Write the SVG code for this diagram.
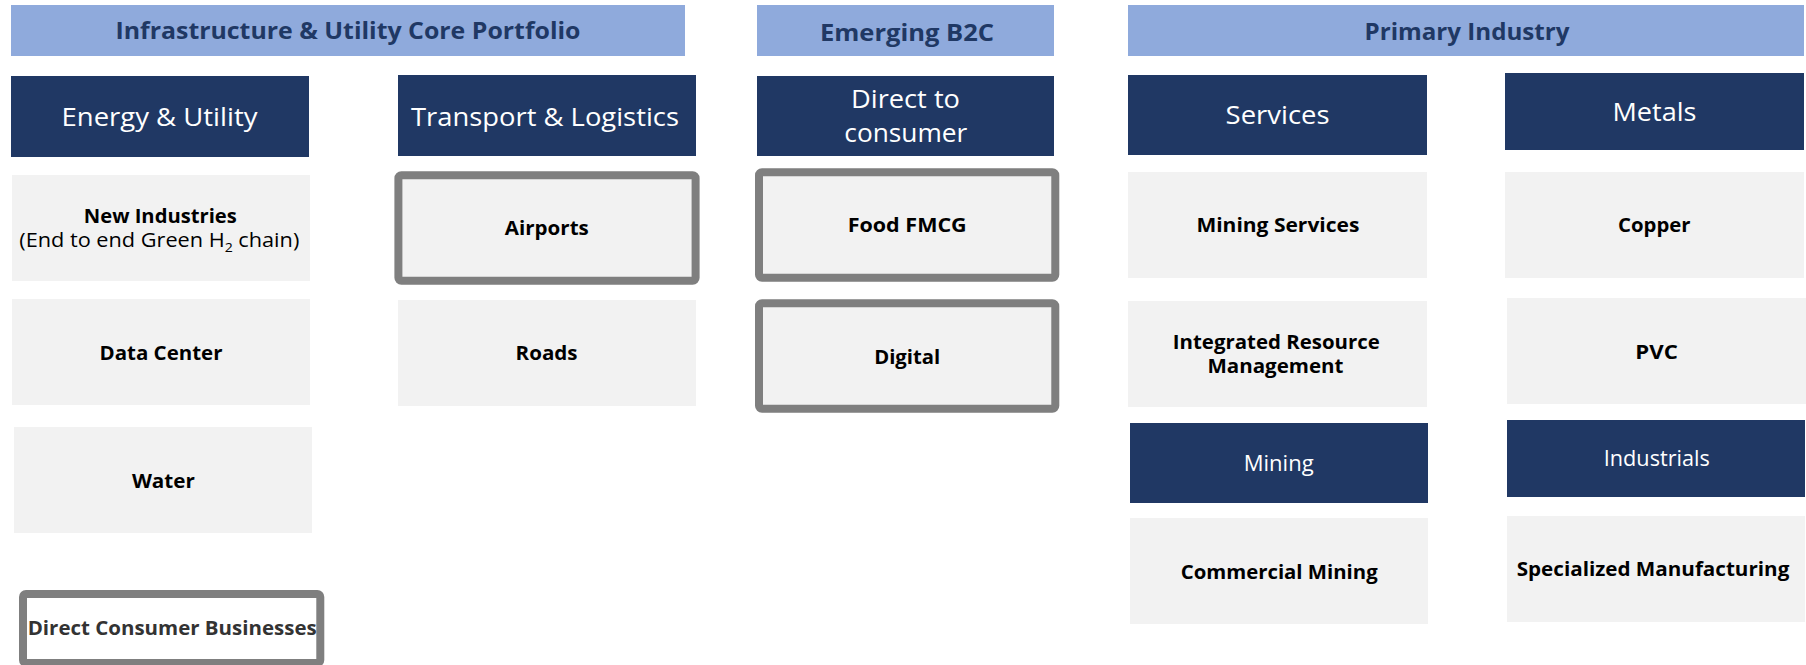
<svg xmlns="http://www.w3.org/2000/svg" width="1806" height="665" viewBox="0 0 1806 665">
<style>
text{font-family:"Open Sans","Liberation Sans",sans-serif;text-anchor:middle}
.hdr{fill:#8FAADC}
.hdrt{fill:#203864;font-size:24px;font-weight:700}
.dk{fill:#203864}
.dkt{fill:#FFFFFF;font-size:26px;font-weight:400}
.dks{fill:#FFFFFF;font-size:21px;font-weight:400}
.lt{fill:#F2F2F2}
.bx{fill:#F2F2F2;stroke:#7F7F7F;stroke-width:8}
.bxw{fill:#FFFFFF;stroke:#7F7F7F;stroke-width:8}
.it{fill:#000000;font-size:20px;font-weight:700}
.itr{fill:#000000;font-size:20px;font-weight:400}
</style>
<rect width="1806" height="665" fill="#FFFFFF"/>
<g id="connectors"></g>

<g id="hdr-infra"><rect class="hdr" x="11" y="5" width="674" height="51"/><text class="hdrt" x="348" y="39" textLength="465" lengthAdjust="spacingAndGlyphs">Infrastructure &amp; Utility Core Portfolio</text></g>
<g id="hdr-b2c"><rect class="hdr" x="757" y="5" width="297" height="51"/><text class="hdrt" x="907" y="40.5" textLength="174" lengthAdjust="spacingAndGlyphs">Emerging B2C</text></g>
<g id="hdr-primary"><rect class="hdr" x="1128" y="5" width="676" height="51"/><text class="hdrt" x="1467" y="40" textLength="205" lengthAdjust="spacingAndGlyphs">Primary Industry</text></g>

<g id="energy"><rect class="dk" x="11" y="76" width="298" height="81"/><text class="dkt" x="159.5" y="126" textLength="196" lengthAdjust="spacingAndGlyphs">Energy &amp; Utility</text></g>
<g id="transport"><rect class="dk" x="398" y="75" width="298" height="81"/><text class="dkt" x="545" y="126" textLength="268" lengthAdjust="spacingAndGlyphs">Transport &amp; Logistics</text></g>
<g id="d2c"><rect class="dk" x="757" y="76" width="297" height="80"/><text class="dkt" x="905.5" y="108.3" textLength="109" lengthAdjust="spacingAndGlyphs">Direct to</text><text class="dkt" x="905.8" y="141.7" textLength="123" lengthAdjust="spacingAndGlyphs">consumer</text></g>
<g id="services"><rect class="dk" x="1128" y="75" width="299" height="80"/><text class="dkt" x="1277.6" y="124" textLength="104" lengthAdjust="spacingAndGlyphs">Services</text></g>
<g id="metals"><rect class="dk" x="1505" y="73" width="299" height="77"/><text class="dkt" x="1654.5" y="120.7" textLength="84" lengthAdjust="spacingAndGlyphs">Metals</text></g>
<g id="mining"><rect class="dk" x="1130" y="423" width="298" height="80"/><text class="dks" x="1278.7" y="471" textLength="70" lengthAdjust="spacingAndGlyphs">Mining</text></g>
<g id="industrials"><rect class="dk" x="1507" y="420" width="298" height="77"/><text class="dks" x="1656.8" y="466" textLength="106" lengthAdjust="spacingAndGlyphs">Industrials</text></g>

<g id="new-industries"><rect class="lt" x="12" y="175" width="298" height="106"/><text class="it" x="160.3" y="222.7" font-size="19" textLength="153" lengthAdjust="spacingAndGlyphs">New Industries</text><text class="itr" x="159.3" y="247.3" font-size="19" textLength="280" lengthAdjust="spacingAndGlyphs">(End to end Green H<tspan font-size="13" dy="5">2</tspan><tspan dy="-5"> chain)</tspan></text></g>
<g id="data-center"><rect class="lt" x="12" y="299" width="298" height="106"/><text class="it" x="161" y="360" textLength="123" lengthAdjust="spacingAndGlyphs">Data Center</text></g>
<g id="water"><rect class="lt" x="14" y="427" width="298" height="106"/><text class="it" x="163.4" y="488.3" textLength="63" lengthAdjust="spacingAndGlyphs">Water</text></g>
<g id="direct-consumer"><rect class="bxw" x="23" y="594" width="297.3" height="69" rx="3"/><text class="it" x="172.2" y="635" fill="#333333" style="fill:#333333" textLength="289" lengthAdjust="spacingAndGlyphs">Direct Consumer Businesses</text></g>

<g id="airports"><rect class="bx" x="398.4" y="175.3" width="297.2" height="105.4" rx="3"/><text class="it" x="546.8" y="235" textLength="84" lengthAdjust="spacingAndGlyphs">Airports</text></g>
<g id="roads"><rect class="lt" x="398" y="300" width="298" height="106"/><text class="it" x="546.6" y="360" textLength="62" lengthAdjust="spacingAndGlyphs">Roads</text></g>

<g id="food-fmcg"><rect class="bx" x="759" y="172.3" width="296.3" height="105.4" rx="3"/><text class="it" x="907.2" y="232.3" textLength="119" lengthAdjust="spacingAndGlyphs">Food FMCG</text></g>
<g id="digital"><rect class="bx" x="759" y="303.3" width="296.3" height="105.4" rx="3"/><text class="it" x="907.2" y="364" textLength="66" lengthAdjust="spacingAndGlyphs">Digital</text></g>

<g id="mining-services"><rect class="lt" x="1128" y="172" width="299" height="106"/><text class="it" x="1277.9" y="231.7" textLength="163" lengthAdjust="spacingAndGlyphs">Mining Services</text></g>
<g id="integrated"><rect class="lt" x="1128" y="301" width="299" height="106"/><text class="it" x="1276.3" y="349.3" font-size="18" textLength="207" lengthAdjust="spacingAndGlyphs">Integrated Resource</text><text class="it" x="1275.5" y="373.3" font-size="18" textLength="136" lengthAdjust="spacingAndGlyphs">Management</text></g>
<g id="commercial-mining"><rect class="lt" x="1130" y="518" width="298" height="106"/><text class="it" x="1279.2" y="579.3" textLength="197" lengthAdjust="spacingAndGlyphs">Commercial Mining</text></g>
<g id="copper"><rect class="lt" x="1505" y="172" width="299" height="106"/><text class="it" x="1654.3" y="231.7" textLength="72.5" lengthAdjust="spacingAndGlyphs">Copper</text></g>
<g id="pvc"><rect class="lt" x="1507" y="298" width="299" height="106"/><text class="it" x="1656.6" y="359" textLength="42.5" lengthAdjust="spacingAndGlyphs">PVC</text></g>
<g id="specialized"><rect class="lt" x="1507" y="516" width="298" height="106"/><text class="it" x="1653" y="576" textLength="272.6" lengthAdjust="spacingAndGlyphs">Specialized Manufacturing</text></g>
</svg>
